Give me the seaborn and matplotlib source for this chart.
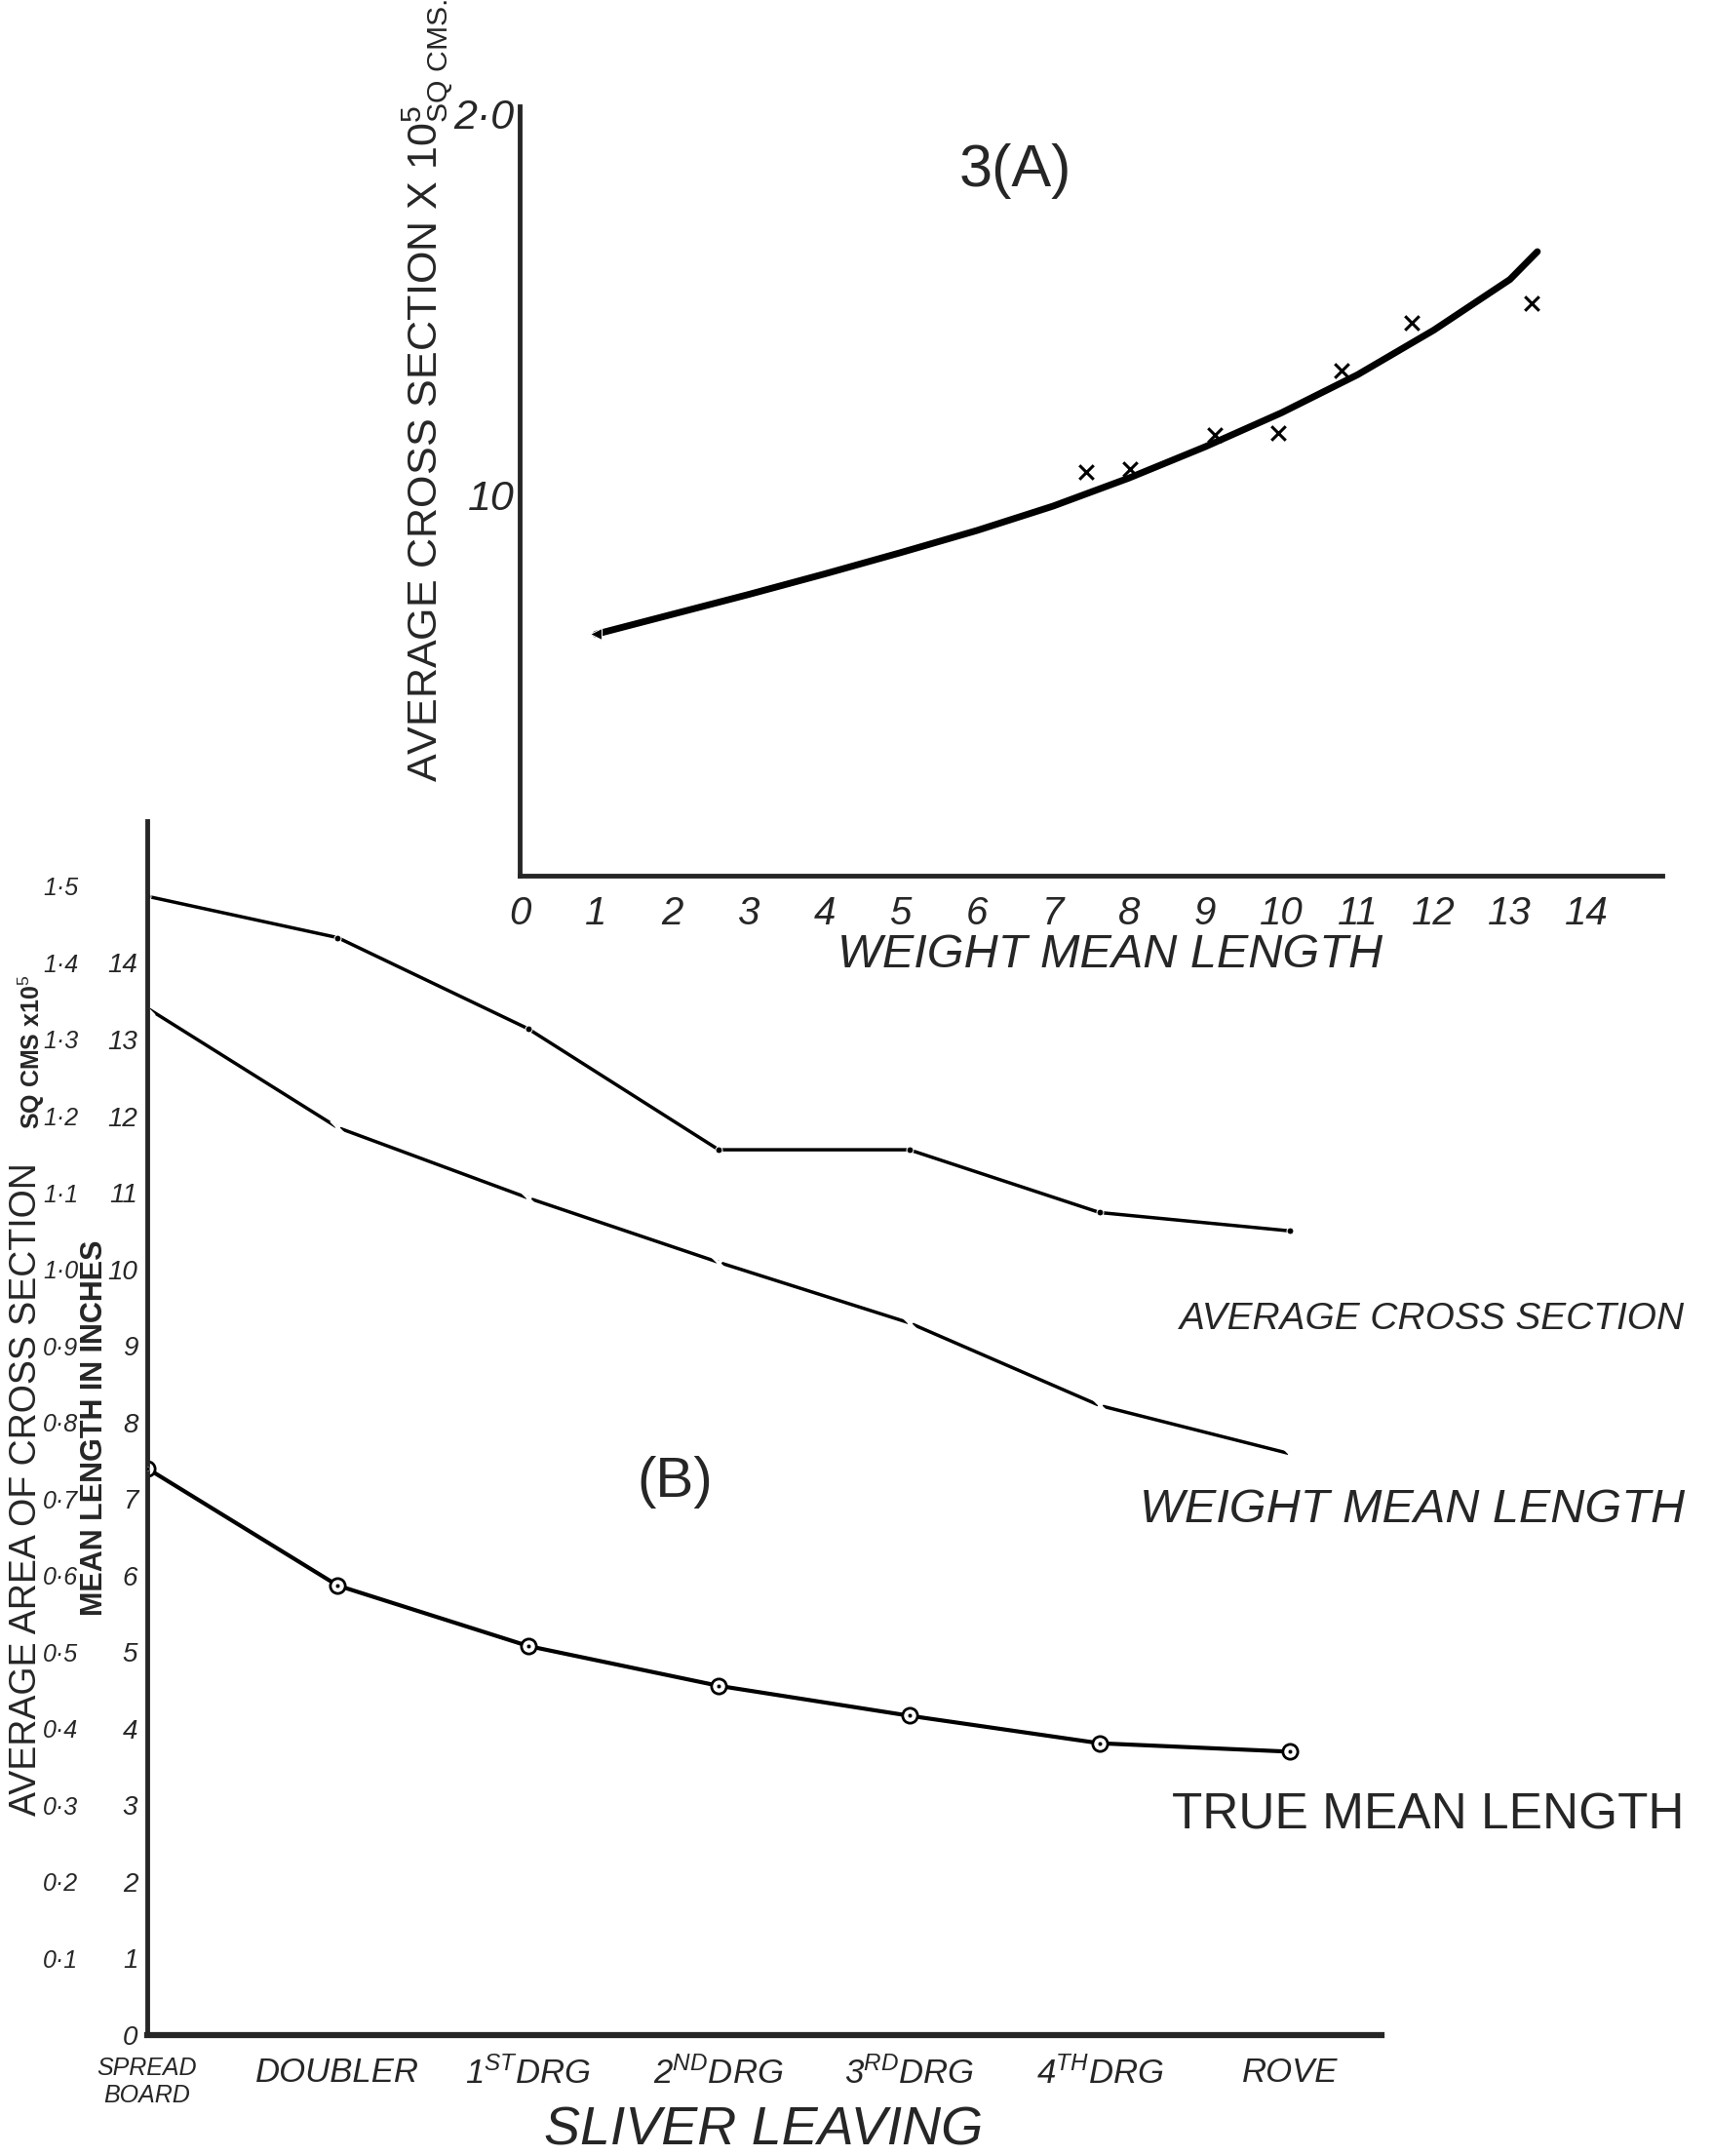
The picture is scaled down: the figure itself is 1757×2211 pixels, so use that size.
import numpy as np
import seaborn as sns
import matplotlib.pyplot as plt
from matplotlib.ticker import FixedLocator

# ---- data ----
# 3(A): average cross section vs weight mean length
curve_x = [1, 2, 3, 4, 5, 6, 7, 8, 9, 10, 11, 12, 13, 13.36]
curve_y = [0.634, 0.686, 0.738, 0.792, 0.848, 0.906, 0.970, 1.044, 1.126, 1.215, 1.315, 1.432, 1.565, 1.638]
obs_x = [7.44, 8.01, 9.13, 9.96, 10.79, 11.71, 13.29]
obs_y = [1.061, 1.068, 1.158, 1.161, 1.326, 1.452, 1.502]
top_xticks = list(range(0, 15))
top_yticks = [0.2, 0.4, 0.6, 0.8, 1.0, 1.2, 1.4, 1.6, 1.8, 2.0]
top_ylabels = ["", "", "", "", "10", "", "", "", "", "2·0"]

# (B): per processing stage
stages = ["SPREAD\nBOARD", "DOUBLER", "1$^{ST}$DRG", "2$^{ND}$DRG",
          "3$^{RD}$DRG", "4$^{TH}$DRG", "ROVE"]
avg_cross = [14.87, 14.33, 13.14, 11.56, 11.56, 10.74, 10.50]
weight_ml = [13.41, 11.85, 10.93, 10.09, 9.30, 8.22, 7.59]
true_ml = [7.40, 5.87, 5.08, 4.56, 4.17, 3.81, 3.70]
inner_ticks = list(range(0, 16))
inner_labels = [str(v) for v in range(0, 15)] + [""]
outer_ticks = [v / 10 for v in range(1, 16)]
outer_labels = ["0·%d" % v if v < 10 else "1·%d" % (v - 10) for v in range(1, 16)]

sns.set_style("white")
plt.rcParams["font.family"] = ["Liberation Sans", "DejaVu Sans"]
plt.rcParams["mathtext.fontset"] = "custom"
plt.rcParams["mathtext.rm"] = "Liberation Sans"
plt.rcParams["mathtext.it"] = "Liberation Sans:italic"
plt.rcParams["mathtext.bf"] = "Liberation Sans:bold"
plt.rcParams["axes.linewidth"] = 3.5

fig = plt.figure(figsize=(17.57, 22.11), dpi=100)
fig.patch.set_facecolor("white")

# ---------------- panel A ----------------
ax_a = fig.add_axes([0.3034, 0.5938, 0.667, 0.357])
sns.lineplot(x=curve_x, y=curve_y, ax=ax_a, color="black", lw=5,
             marker="<", markevery=[0], ms=9, solid_joinstyle="round")
sns.scatterplot(x=obs_x, y=obs_y, ax=ax_a, color="black", marker="x",
                s=110, linewidth=2.2)
ax_a.set_xlim(0, 15)
ax_a.set_ylim(0, 2.02)
ax_a.spines[["top", "right"]].set_visible(False)
ax_a.set_xticks(top_xticks)
ax_a.set_xticklabels([str(v) for v in top_xticks], fontsize=29, style="italic")
ax_a.set_yticks(top_yticks)
ax_a.set_yticklabels(top_ylabels, fontsize=31, style="italic")
ax_a.tick_params(axis="both", direction="in", length=9, width=2, color="black")
ax_a.tick_params(axis="x", pad=14)
ax_a.tick_params(axis="y", pad=4)
ax_a.set_xlabel("WEIGHT MEAN LENGTH", fontsize=35, style="italic")
ax_a.xaxis.set_label_coords(0.517, -0.075)
ax_a.text(-0.08, 0.63, r"AVERAGE CROSS SECTION X 10$^{5}_{\rm SQ\ CMS.}$",
          transform=ax_a.transAxes, rotation=90, fontsize=31,
          ha="center", va="center")
ax_a.text(6.5, 1.85, "3(A)", fontsize=44, ha="center", va="center")

# ---------------- panel B ----------------
pos = np.arange(len(stages))
ax_b = fig.add_axes([0.0859, 0.0561, 0.7207, 0.563])
ax_b.patch.set_visible(False)
sns.lineplot(x=pos, y=avg_cross, ax=ax_b, color="black", lw=2.5,
             marker="o", ms=5)
sns.lineplot(x=pos, y=weight_ml, ax=ax_b, color="black", lw=2.5,
             marker="x", ms=10, mew=2.2)
sns.lineplot(x=pos, y=true_ml, ax=ax_b, color="black", lw=3,
             marker="o", ms=11, mfc="white", mec="black", mew=2)
sns.scatterplot(x=pos, y=true_ml, ax=ax_b, color="black", s=10, zorder=5)
ax_b.set_xlim(0, 6.48)
ax_b.set_ylim(0, 15.85)
ax_b.spines[["top", "right"]].set_visible(False)
ax_b.spines["bottom"].set_linewidth(4.5)
ax_b.set_xticks(pos)
ax_b.set_xticklabels(stages, fontsize=25, style="italic")
ax_b.get_xticklabels()[0].set_fontsize(18)
ax_b.set_yticks(inner_ticks)
ax_b.set_yticklabels(inner_labels, fontsize=20, style="italic")
ax_b.tick_params(axis="both", direction="in", length=10, width=2, color="black")
ax_b.tick_params(axis="x", pad=16)
ax_b.tick_params(axis="y", pad=7)
ax_b.set_xlabel("SLIVER LEAVING", fontsize=40, style="italic")
ax_b.xaxis.set_label_coords(0.499, -0.058)
ax_b.set_ylabel("MEAN LENGTH IN INCHES", fontsize=22, weight="bold")
ax_b.yaxis.set_label_coords(-0.031, 0.50)

outer = ax_b.secondary_yaxis(-0.056, functions=(lambda v: v / 10, lambda v: v * 10))
outer.spines["left"].set_visible(False)
outer.yaxis.set_major_locator(FixedLocator(outer_ticks))
outer.set_yticklabels(outer_labels, fontsize=18, style="italic")
outer.tick_params(axis="y", length=0, pad=0)

ax_b.text(-0.098, 0.45, "AVERAGE AREA OF CROSS SECTION", transform=ax_b.transAxes,
          rotation=90, fontsize=27, ha="center", va="center")
ax_b.text(-0.094, 0.81, "SQ CMS x10$^{5}$", transform=ax_b.transAxes,
          rotation=90, fontsize=18, weight="bold", ha="center", va="center")

ax_b.text(5.42, 9.34, "AVERAGE CROSS SECTION", fontsize=28, style="italic",
          ha="left", va="center", clip_on=False)
ax_b.text(5.21, 6.86, "WEIGHT MEAN LENGTH", fontsize=35, style="italic",
          ha="left", va="center", clip_on=False)
ax_b.text(5.38, 2.87, "TRUE MEAN LENGTH", fontsize=37,
          ha="left", va="center", clip_on=False)
ax_b.text(2.77, 7.22, "(B)", fontsize=42, ha="center", va="center")

fig.savefig("out.png", dpi=100, facecolor="white")
